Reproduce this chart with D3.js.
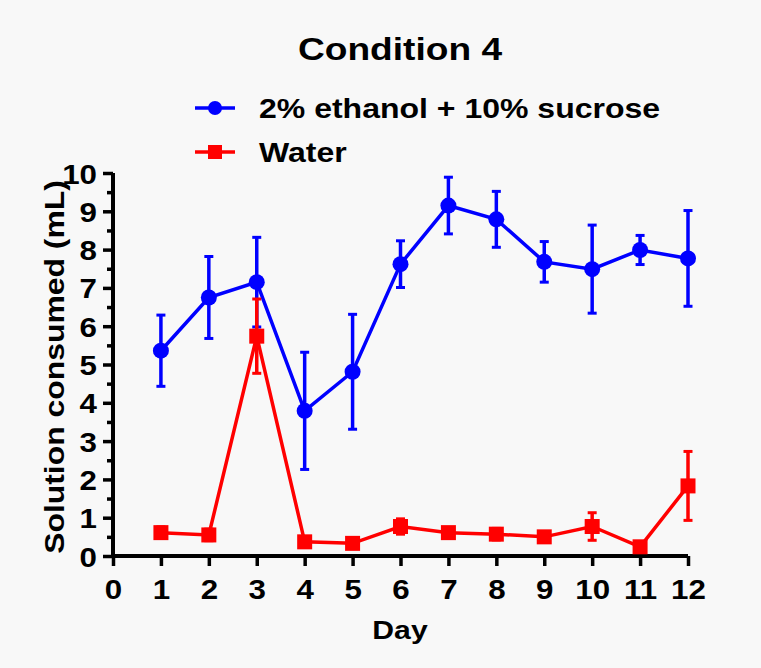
<!DOCTYPE html>
<html>
<head>
<meta charset="utf-8">
<script src="https://cdn.jsdelivr.net/npm/d3@7"></script>
<style>
  html, body { margin: 0; padding: 0; background: #f8f8f8; }
  svg { display: block; font-family: "Liberation Sans", Arial, sans-serif; font-weight: bold; }
</style>
</head>
<body>
<svg id="chart" width="761" height="668"></svg>
<script>
// Daily consumption data (mean ± error)
const days = [1, 2, 3, 4, 5, 6, 7, 8, 9, 10, 11, 12];
const ethanolMean = [5.36, 6.75, 7.15, 3.79, 4.81, 7.62, 9.15, 8.79, 7.68, 7.49, 7.99, 7.77];
const ethanolErr  = [0.93, 1.07, 1.17, 1.53, 1.50, 0.61, 0.74, 0.73, 0.53, 1.15, 0.38, 1.25];
const waterMean   = [0.61, 0.55, 5.74, 0.37, 0.33, 0.77, 0.61, 0.57, 0.50, 0.77, 0.24, 1.83];
const waterErr    = [0.15, 0.15, 0.97, 0.10, 0.10, 0.20, 0.12, 0.15, 0.10, 0.36, 0.08, 0.90];
const xTicks = d3.range(0, 13);
const yTicks = d3.range(0, 11);
const yMinorTicks = d3.range(0.5, 10, 1);

const seriesNames = ["2% ethanol + 10% sucrose", "Water"];
const seriesColors = ["#0000ff", "#ff0000"];

const svg = d3.select("#chart");
const plotLeft = 113, plotRight = 688, plotTop = 173, plotBottom = 556;
const WIDEN = 1.16; // wide bold lettering

const x = d3.scaleLinear().domain([0, 12]).range([plotLeft, plotRight]);
const y = d3.scaleLinear().domain([0, 10]).range([plotBottom, plotTop]);

// Text helper: places text at (tx, ty), widened along its baseline
function label(parent, tx, ty, str, size, anchor, rotate) {
  const r = rotate ? ` rotate(${rotate})` : "";
  return parent.append("text")
    .attr("transform", `translate(${tx},${ty})${r} scale(${WIDEN},1)`)
    .attr("text-anchor", anchor || "start")
    .attr("font-size", size)
    .attr("fill", "#000")
    .text(str);
}

// Title
label(svg, 400, 60, "Condition 4", 32, "middle");

// Legend
const legend = svg.append("g");
[0, 1].forEach(i => {
  const ly = 108 + i * 44;
  legend.append("line").attr("x1", 195).attr("x2", 235).attr("y1", ly).attr("y2", ly)
    .attr("stroke", seriesColors[i]).attr("stroke-width", 3.5);
  if (i === 0) {
    legend.append("circle").attr("cx", 215).attr("cy", ly).attr("r", 7).attr("fill", seriesColors[i]);
  } else {
    legend.append("rect").attr("x", 208).attr("y", ly - 7).attr("width", 14).attr("height", 14).attr("fill", seriesColors[i]);
  }
  label(legend, 259, ly + 9.5, seriesNames[i], 27.6, "start");
});

// Axes
const xAxis = d3.axisBottom(x).tickValues(xTicks).tickSize(10).tickFormat(d3.format("d"));
const yAxis = d3.axisLeft(y).tickValues(yTicks).tickSize(10).tickFormat(d3.format("d"));

const gx = svg.append("g").attr("transform", `translate(0,${plotBottom})`).call(xAxis);
const gy = svg.append("g").attr("transform", `translate(${plotLeft},0)`).call(yAxis);
svg.append("g").attr("transform", `translate(${plotLeft},0)`)
  .call(d3.axisLeft(y).tickValues(yMinorTicks).tickSize(6).tickFormat(""))
  .call(g => g.select(".domain").remove())
  .selectAll("line").attr("stroke", "#000").attr("stroke-width", 3.5);

[gx, gy].forEach(g => {
  g.select(".domain").attr("stroke", "#000").attr("stroke-width", 4);
  g.selectAll(".tick line").attr("stroke", "#000").attr("stroke-width", 3.5);
  g.selectAll(".tick text")
    .attr("font-size", 27).attr("font-weight", "bold")
    .attr("font-family", "Liberation Sans, Arial, sans-serif").attr("fill", "#000")
    .attr("x", 0).attr("y", 0).attr("dy", null);
});
gx.selectAll(".tick text").attr("transform", `translate(0,43) scale(${WIDEN},1)`);
gy.selectAll(".tick text").attr("transform", `translate(-16,10) scale(${WIDEN},1)`);
gx.select(".domain").attr("d", `M${plotLeft},0H${plotRight}`);
gy.select(".domain").attr("d", `M0,${plotBottom}V${plotTop}`);

// Axis titles
label(svg, 400, 639, "Day", 26, "middle");
label(svg, 64, 367, "Solution consumed (mL)", 27.5, "middle", -90);

// Series drawing
function drawSeries(means, errs, color, shape) {
  const g = svg.append("g");
  const data = days.map((d, i) => ({ d, m: means[i], e: errs[i] }));
  const line = d3.line().x(p => x(p.d)).y(p => y(p.m));
  g.append("path").datum(data).attr("d", line).attr("fill", "none")
    .attr("stroke", color).attr("stroke-width", 3.5);
  const eb = g.selectAll(".eb").data(data).enter().append("g");
  eb.append("line").attr("x1", p => x(p.d)).attr("x2", p => x(p.d))
    .attr("y1", p => y(p.m - p.e)).attr("y2", p => y(p.m + p.e))
    .attr("stroke", color).attr("stroke-width", 3.5);
  [-1, 1].forEach(s => {
    eb.append("line").attr("x1", p => x(p.d) - 4.5).attr("x2", p => x(p.d) + 4.5)
      .attr("y1", p => y(p.m + s * p.e)).attr("y2", p => y(p.m + s * p.e))
      .attr("stroke", color).attr("stroke-width", 3);
  });
  if (shape === "circle") {
    g.selectAll(".pt").data(data).enter().append("circle")
      .attr("cx", p => x(p.d)).attr("cy", p => y(p.m)).attr("r", 8).attr("fill", color);
  } else {
    g.selectAll(".pt").data(data).enter().append("rect")
      .attr("x", p => x(p.d) - 7.5).attr("y", p => y(p.m) - 7.5)
      .attr("width", 15).attr("height", 15).attr("fill", color);
  }
}

drawSeries(ethanolMean, ethanolErr, seriesColors[0], "circle");
drawSeries(waterMean, waterErr, seriesColors[1], "square");
</script>
</body>
</html>
